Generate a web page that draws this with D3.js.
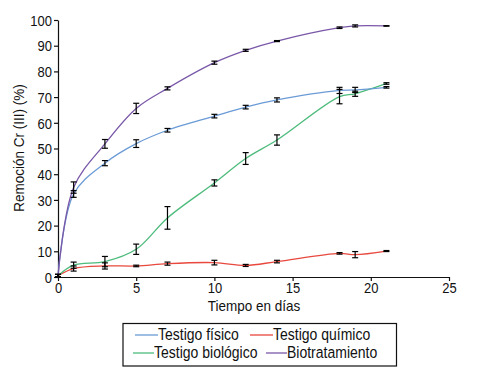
<!DOCTYPE html>
<html><head><meta charset="utf-8">
<script src="https://cdn.jsdelivr.net/npm/d3@7"></script>
<style>body{margin:0;background:#fff}svg{display:block}text{font-family:"Liberation Sans",Arial,sans-serif}</style>
</head><body>
<svg id="c" width="489" height="378"></svg>
<script>
const days = [0,1,3,5,7,10,12,14,18,19,21];
const fisico = [0.5,32.3,44.3,51.9,57.1,62.6,66.1,68.9,72.6,72.8,73.8];
const fisicoErr = [0.5,1.3,1.0,1.5,0.7,0.7,0.7,0.8,1.2,1.0,0.3];
const quimico = [0.5,3.3,4.3,4.3,5.2,5.6,4.5,6.0,9.2,8.7,10.1];
const quimicoErr = [0.5,1.0,1.2,0.3,0.6,0.9,0.4,0.5,0.3,1.2,0.2];
const biologico = [0.5,4.6,6.0,10.8,23.0,36.6,46.1,53.3,70.2,71.3,75.3];
const biologicoErr = [0.5,1.2,2.0,2.0,4.4,1.2,2.3,2.0,2.8,1.0,0.3];
const biotrat = [0.5,34.8,51.8,65.6,73.4,83.4,88.2,91.8,97.0,97.7,97.7];
const biotratErr = [0.5,2.2,1.7,2.0,0.6,0.6,0.4,0.2,0.3,0.4,0.1];
const xTicks = [0,5,10,15,20,25];
const yTicks = [0,10,20,30,40,50,60,70,80,90,100];
const seriesNames = ["Testigo físico","Testigo químico","Testigo biológico","Biotratamiento"];
const colors = ["#6b9bd6","#e8483d","#4dbb7c","#7a58a8"];
const values = [fisico, quimico, biologico, biotrat];
const errors = [fisicoErr, quimicoErr, biologicoErr, biotratErr];
const SY = 1.12;

const svg = d3.select("#c");
const x = d3.scaleLinear().domain([0,25]).range([58,449]);
const y = d3.scaleLinear().domain([0,100]).range([277,20]);

// axes
const gx = svg.append("g").attr("transform","translate(0,277)")
  .call(d3.axisBottom(x).tickValues(xTicks).tickSize(4).tickPadding(3).tickSizeOuter(0));
const gy = svg.append("g").attr("transform","translate(58,0)")
  .call(d3.axisLeft(y).tickValues(yTicks).tickSize(4).tickPadding(2).tickSizeOuter(0));
[gx,gy].forEach(g=>{
  g.selectAll("text").attr("font-size",13).attr("fill","#111").attr("transform",`scale(1,${SY})`);
  g.selectAll("line,path").attr("stroke","#111").attr("stroke-width",1.2);
});
gy.selectAll("text").attr("dy","0.36em");
gx.selectAll("text").attr("y",5.5);

// lines
const line = d3.line().curve(d3.curveCatmullRom.alpha(0.5));
[1,2,0,3].forEach(i=>{
  const pts = days.map((d,j)=>[x(d), y(values[i][j])]);
  svg.append("path").attr("d", line(pts)).attr("fill","none")
    .attr("stroke",colors[i]).attr("stroke-width",1.3);
});
// error bars
values.forEach((vals,i)=>{
  const g = svg.append("g").attr("stroke","#000").attr("stroke-width",1.2);
  days.forEach((d,j)=>{
    const cx = x(d), y1 = y(vals[j]+errors[i][j]), y2 = y(vals[j]-errors[i][j]);
    g.append("line").attr("x1",cx).attr("x2",cx).attr("y1",y1).attr("y2",y2);
    g.append("line").attr("x1",cx-3).attr("x2",cx+3).attr("y1",y1).attr("y2",y1);
    g.append("line").attr("x1",cx-3).attr("x2",cx+3).attr("y1",y2).attr("y2",y2);
  });
});

// axis labels
svg.append("text").attr("transform",`translate(254,311) scale(1,${SY})`).attr("text-anchor","middle")
  .attr("font-size",13.5).attr("fill","#111").text("Tiempo en días");
svg.append("text").attr("transform",`translate(24,148) rotate(-90) scale(1,${SY})`).attr("text-anchor","middle")
  .attr("font-size",13.5).attr("fill","#111").text("Remoción Cr (III) (%)");

// legend
svg.append("rect").attr("x",123).attr("y",323.5).attr("width",273.5).attr("height",42.5)
  .attr("fill","#fff").attr("stroke","#111").attr("stroke-width",1.2);
const leg = [
  {i:0, x1:135, x2:158, ty:340},
  {i:1, x1:250, x2:273, ty:340},
  {i:2, x1:133, x2:154, ty:358},
  {i:3, x1:266, x2:287, ty:358}
];
leg.forEach(l=>{
  svg.append("line").attr("x1",l.x1).attr("x2",l.x2).attr("y1",l.ty-5).attr("y2",l.ty-5)
    .attr("stroke",colors[l.i]).attr("stroke-width",1.3);
  svg.append("text").attr("transform",`translate(${l.x2},${l.ty}) scale(1,${SY})`)
    .attr("font-size",14).attr("fill","#111").text(seriesNames[l.i]);
});
</script>
</body></html>
